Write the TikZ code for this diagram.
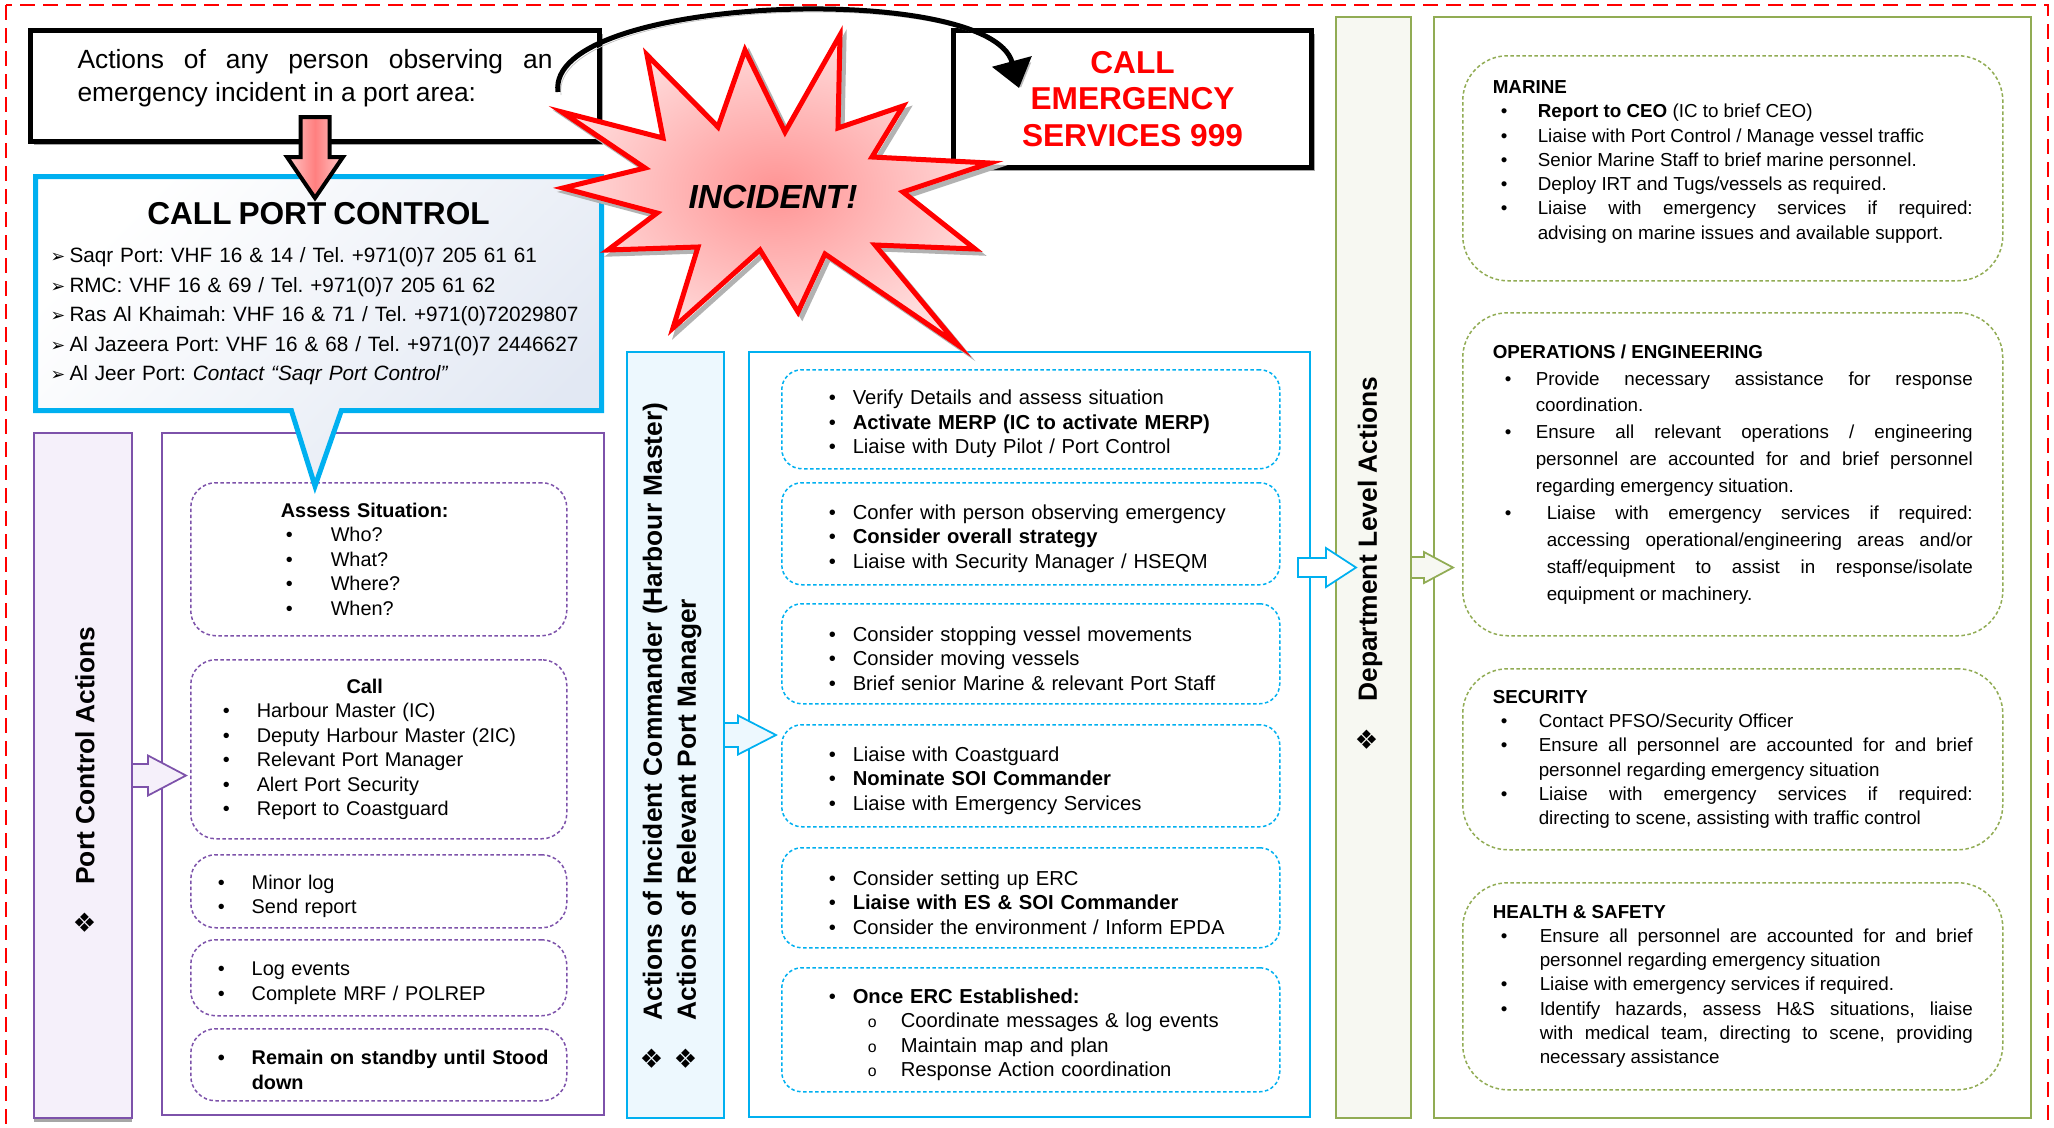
\documentclass[tikz,border=0pt]{standalone}
\usepackage{fontspec}
\setmainfont{Liberation Sans}
\newfontfamily\dingfont{DejaVu Sans}
\usetikzlibrary{positioning, arrows.meta, shapes.callouts, shadows}

\definecolor{pcline}{RGB}{125,82,170}
\definecolor{pcfill}{RGB}{245,240,250}
\definecolor{icline}{RGB}{0,176,240}
\definecolor{icfill}{RGB}{237,248,254}
\definecolor{dpline}{RGB}{145,172,84}
\definecolor{dpfill}{RGB}{247,248,242}
\definecolor{cpcshade}{RGB}{226,232,243}

\hyphenpenalty=10000
\exhyphenpenalty=10000
\frenchspacing

\newcommand{\dmd}{{\dingfont\mdseries ❖}}
\newcommand{\harrow}[1]{\par\noindent\makebox[3.8mm][l]{\dingfont\fontsize{10}{10}\selectfont ➢}\mbox{#1}}
\newcommand{\bul}[2]{\par\hangindent=#2\hangafter=1\noindent\makebox[#2][l]{\hspace*{#1}\textbullet}}
\newcommand{\obul}[2]{\par\hangindent=#2\hangafter=1\noindent\makebox[#2][l]{\hspace*{#1}\fontsize{9}{9}\selectfont o}}
\newcommand{\pcfont}{\fontsize{11.3}{13.9}\selectfont}
\newcommand{\icfont}{\fontsize{11.5}{13.9}\selectfont}
\newcommand{\dpfont}{\fontsize{10.7}{13.8}\selectfont}

\begin{document}
\begin{tikzpicture}[x=0.2mm, y=-0.2mm,
  outerframe/.style={draw=red, line width=0.45mm, dash pattern=on 3mm off 1.6mm},
  blackbox/.style={draw, line width=1mm, fill=white, align=center, anchor=north west,
    drop shadow={shadow xshift=0.7mm, shadow yshift=-0.7mm, fill=black!35, opacity=1}},
  callbox/.style={rectangle callout, draw=icline, line width=1mm, anchor=north west,
    top color=white, bottom color=cpcshade, shading angle=45,
    inner xsep=3mm, text width=107.2mm, align=left},
  sidebar/.style={line width=0.4mm, anchor=north west},
  panel/.style={line width=0.4mm, anchor=north west, fill=white},
  itembox/.style={line width=0.3mm, dash pattern=on 0.7mm off 0.5mm, anchor=north west},
  pcitem/.style={itembox, draw=pcline, rounded corners=5mm, minimum width=75.2mm,
    inner xsep=4mm, text width=67.2mm, align=left, font=\pcfont},
  icitem/.style={itembox, draw=icline, rounded corners=4mm, minimum width=99.6mm,
    inner xsep=8mm, text width=83.6mm, align=left, font=\icfont},
  dpitem/.style={itembox, draw=dpline, rounded corners=9mm, minimum width=108mm,
    inner xsep=6mm, text width=96mm, align=justify, font=\dpfont},
  barlabel/.style={rotate=90, anchor=west, inner sep=0pt, align=left,
    font=\fontsize{15}{19.3}\selectfont\bfseries},
  blockarr/.style={line width=0.35mm, line join=miter},
  downarr/.style={draw=black, line width=0.8mm, line join=miter,
    left color=red!22, right color=red!22, middle color=red!50},
  starline/.style={draw=red, line width=1mm, line join=miter, inner color=red!42, outer color=red!14,
    preaction={draw=black!30, line width=1mm, transform canvas={shift={(0.8mm,-0.8mm)}}}},
  curvearr/.style={-{Triangle[length=5.5mm, width=8mm]}, line width=1mm,
    preaction={draw=black!25, transform canvas={shift={(0.6mm,-0.6mm)}}}},
]
\useasboundingbox (0,0) rectangle (2054,1127);
\draw[outerframe] (6,5) rectangle (2048,1140);

% === Port control side (left) ===
\node[sidebar, draw=pcline, fill=pcfill, minimum width=19.6mm, minimum height=137mm,
  drop shadow={shadow xshift=0mm, shadow yshift=-0.8mm, fill=black!35, opacity=1}] (pcbar) at (33,432) {};
\node[panel, draw=pcline, minimum width=88.4mm, minimum height=136.4mm] (pcpanel) at (161,432) {};
\draw[blockarr, draw=pcline, fill=pcfill] (pcbar.east) ++(0,-11.5) -- ++(15,0) -- ++(0,-8.5)
  -- ++(38,20) -- ++(-38,20) -- ++(0,-8.5) -- ++(-15,0);
\node[barlabel] (pclabel) at (85,935) {\dmd\quad Port Control Actions};

\node[pcitem, minimum height=30.6mm] (assess) at (190,482) {%
  {\centering\bfseries Assess Situation:\hspace*{5.6mm}\par}%
  \bul{15mm}{24mm}Who?\bul{15mm}{24mm}What?\bul{15mm}{24mm}Where?\bul{15mm}{24mm}When?\par};
\node[pcitem, minimum height=35.8mm] (callpc) at (190,659) {%
  {\centering\bfseries Call\hspace*{5.6mm}\par}%
  \bul{2.4mm}{9.2mm}Harbour Master (IC)
  \bul{2.4mm}{9.2mm}Deputy Harbour Master (2IC)
  \bul{2.4mm}{9.2mm}Relevant Port Manager
  \bul{2.4mm}{9.2mm}Alert Port Security
  \bul{2.4mm}{9.2mm}Report to Coastguard\par};
\node[pcitem, minimum height=14.6mm] (minorlog) at (190,854) {%
  \bul{1.4mm}{8.2mm}Minor log\bul{1.4mm}{8.2mm}Send report\par};
\node[pcitem, minimum height=15.2mm] (logev) at (190,939) {%
  \bul{1.4mm}{8.2mm}Log events\bul{1.4mm}{8.2mm}Complete MRF / POLREP\par};
\node[pcitem, minimum height=14.4mm, inner xsep=1mm, text width=73.2mm, font=\pcfont\bfseries] (standby) at (190,1028) {%
  \bul{4.4mm}{11.2mm}Remain on standby until Stood down\par};

% === Incident commander side (middle) ===
\node[sidebar, draw=icline, fill=icfill, minimum width=19.4mm, minimum height=153.2mm] (icbar) at (626,351) {};
\node[panel, draw=icline, minimum width=112.2mm, minimum height=153mm] (icpanel) at (748,351) {};
\draw[blockarr, draw=icline, fill=icfill] (icbar.east) ++(0,-12) -- ++(13,0) -- ++(0,-7.5)
  -- ++(38,19.5) -- ++(-38,19.5) -- ++(0,-7.5) -- ++(-13,0);
\node[barlabel] (iclabel) at (672,1071)
  {\dmd\quad Actions of Incident Commander (Harbour Master)\\\dmd\quad Actions of Relevant Port Manager};

\node[icitem, minimum height=19.8mm] (verify) at (781,369) {%
  \bul{1.4mm}{6.2mm}Verify Details and assess situation
  \bul{1.4mm}{6.2mm}\textbf{Activate MERP (IC to activate MERP)}
  \bul{1.4mm}{6.2mm}Liaise with Duty Pilot / Port Control\par};
\node[icitem, minimum height=20.4mm] (confer) at (781,482) {%
  \bul{1.4mm}{6.2mm}Confer with person observing emergency
  \bul{1.4mm}{6.2mm}\textbf{Consider overall strategy}
  \bul{1.4mm}{6.2mm}Liaise with Security Manager / HSEQM\par};
\node[icitem, minimum height=20mm] (vessels) at (781,603) {%
  \bul{1.4mm}{6.2mm}Consider stopping vessel movements
  \bul{1.4mm}{6.2mm}Consider moving vessels
  \bul{1.4mm}{6.2mm}Brief senior Marine \& relevant Port Staff\par};
\node[icitem, minimum height=20.4mm] (coastg) at (781,724) {%
  \bul{1.4mm}{6.2mm}Liaise with Coastguard
  \bul{1.4mm}{6.2mm}\textbf{Nominate SOI Commander}
  \bul{1.4mm}{6.2mm}Liaise with Emergency Services\par};
\node[icitem, minimum height=20mm] (ercset) at (781,847) {%
  \bul{1.4mm}{6.2mm}Consider setting up ERC
  \bul{1.4mm}{6.2mm}\textbf{Liaise with ES \& SOI Commander}
  \bul{1.4mm}{6.2mm}Consider the environment / Inform EPDA\par};
\node[icitem, minimum height=24.8mm] (ercdone) at (781,967) {%
  \bul{1.4mm}{6.2mm}\textbf{Once ERC Established:}
  \obul{9.2mm}{15.8mm}Coordinate messages \& log events
  \obul{9.2mm}{15.8mm}Maintain map and plan
  \obul{9.2mm}{15.8mm}Response Action coordination\par};

% === Department side (right) ===
\node[sidebar, draw=dpline, fill=dpfill, minimum width=15mm, minimum height=220.2mm] (dpbar) at (1335,16) {};
\node[panel, draw=dpline, minimum width=119.4mm, minimum height=220.2mm] (dppanel) at (1433,16) {};
\draw[blockarr, draw=icline, fill=white] ([xshift=-2.6mm]icpanel.east |- dpbar.east) ++(0,-9.5)
  -- ++(28,0) -- ++(0,-10) -- ++(30,19.5) -- ++(-30,19.5) -- ++(0,-10) -- ++(-28,0) -- cycle;
\draw[blockarr, draw=dpline, fill=dpfill] (dpbar.east) ++(0,-10.5) -- ++(12,0) -- ++(0,-5)
  -- ++(29,15.5) -- ++(-29,15.5) -- ++(0,-5) -- ++(-12,0);
\node[barlabel] (dplabel) at (1370,752) {\dmd\quad Department Level Actions};

\node[dpitem, minimum height=45mm] (marine) at (1462,55) {%
  {\bfseries MARINE}
  \bul{1.6mm}{9mm}\textbf{Report to CEO} (IC to brief CEO)
  \bul{1.6mm}{9mm}Liaise with Port Control / Manage vessel traffic
  \bul{1.6mm}{9mm}Senior Marine Staff to brief marine personnel.
  \bul{1.6mm}{9mm}Deploy IRT and Tugs/vessels as required.
  \bul{1.6mm}{9mm}Liaise with emergency services if required:\linebreak
  advising on marine issues and available support.\par\kern2.6mm};
\node[dpitem, minimum height=64.6mm, font=\fontsize{10.7}{15.3}\selectfont] (opseng) at (1462,312) {%
  {\bfseries OPERATIONS / ENGINEERING}
  \bul{2.4mm}{8.6mm}Provide necessary assistance for response coordination.
  \bul{2.4mm}{8.6mm}Ensure all relevant operations / engineering personnel are accounted
  for and brief personnel regarding emergency situation.
  \bul{2.4mm}{10.8mm}Liaise with emergency services if required: accessing
  operational/engineering areas and/or staff/equipment to assist in response/isolate
  equipment or machinery.\par};
\node[dpitem, minimum height=36.2mm] (security) at (1462,668) {%
  {\bfseries SECURITY}
  \bul{1.6mm}{9.2mm}Contact PFSO/Security Officer
  \bul{1.6mm}{9.2mm}Ensure all personnel are accounted for and brief personnel regarding
  emergency situation
  \bul{1.6mm}{9.2mm}Liaise with emergency services if required:\linebreak
  directing to scene, assisting with traffic control\par};
\node[dpitem, minimum height=41.4mm] (health) at (1462,882) {%
  {\bfseries HEALTH \& SAFETY}
  \bul{1.6mm}{9.4mm}Ensure all personnel are accounted for and brief personnel regarding
  emergency situation
  \bul{1.6mm}{9.4mm}Liaise with emergency services if required.
  \bul{1.6mm}{9.4mm}Identify hazards, assess H\&S situations, liaise\linebreak
  with medical team, directing to scene, providing necessary assistance\par};

% === Top row ===
\node[blackbox, minimum width=113.8mm, minimum height=22.2mm, text width=95mm, align=justify,
  font=\fontsize{15}{18.5}\selectfont] (obs) at (28,28)
  {Actions of any person observing an emergency incident in a port area:\par\kern3.2mm};
\node[blackbox, minimum width=71.6mm, minimum height=27.4mm, text=red,
  font=\fontsize{18}{20.7}\selectfont\bfseries] (ems) at (951,28)
  {CALL\\EMERGENCY\\SERVICES 999};
\node[callbox, minimum width=113.2mm, minimum height=46.8mm, callout absolute pointer={(315,486)},
  callout pointer width=10mm, font=\fontsize{11.8}{16.8}\selectfont] (cpc) at (33,174) {%
  {\centering\fontsize{18}{22}\selectfont\bfseries CALL PORT CONTROL\par}\vspace{1.8mm}%
  \harrow{Saqr Port: VHF 16 \& 14 / Tel. +971(0)7 205 61 61}
  \harrow{RMC: VHF 16 \& 69 / Tel. +971(0)7 205 61 62}
  \harrow{Ras Al Khaimah: VHF 16 \& 71 / Tel. +971(0)72029807}
  \harrow{Al Jazeera Port: VHF 16 \& 68 / Tel. +971(0)7 2446627}
  \harrow{Al Jeer Port: \textit{Contact ``Saqr Port Control''}}\par};
\draw[downarr] ([shift={(-14.5,-27)}]obs.south) -- ++(29,0) -- ++(0,40) -- ++(13.5,0)
  -- ++(-28,41) -- ++(-28,-41) -- ++(13.5,0) -- cycle;

% incident burst
\draw[starline] (563,188) -- (657,213) -- (608,250) -- (698,247) -- (673,328) -- (760,250)
  -- (798,312) -- (825,254) -- (958,345) -- (875,245) -- (975,249) -- (903,192) -- (990,163)
  -- (872,157) -- (903,106) -- (838,128) -- (840,35) -- (785,132) -- (745,50) -- (718,127)
  -- (647,55) -- (663,138) -- (562,112) -- (645,168) -- cycle;
\node[font=\fontsize{19}{22}\selectfont\bfseries\itshape] (incident) at (773,197) {INCIDENT!};

\coordinate (arcfrom) at (558,92);
\coordinate (arcto) at (1019,88);
\draw[curvearr] (arcfrom) .. controls (545,-5) and (990,-20) .. (arcto);

\end{tikzpicture}
\end{document}
